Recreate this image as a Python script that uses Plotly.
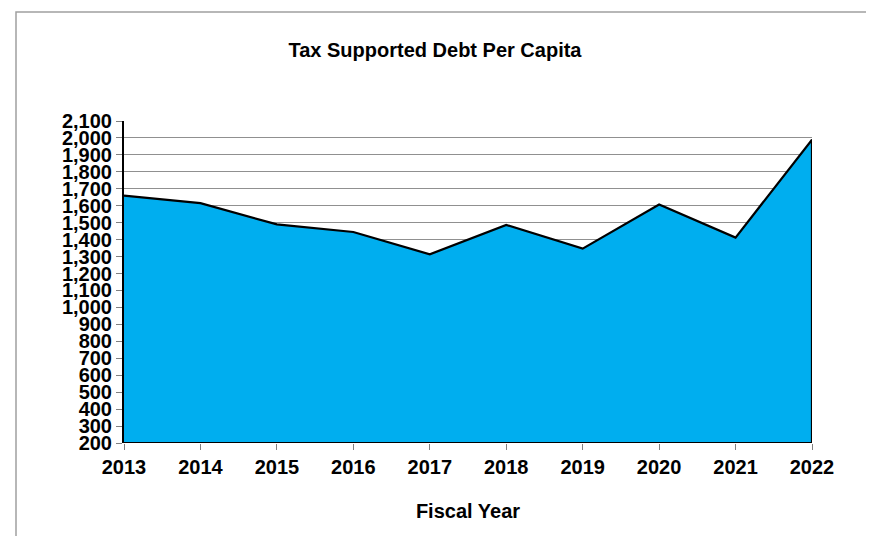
import plotly.graph_objects as go

years = [2013, 2014, 2015, 2016, 2017, 2018, 2019, 2020, 2021, 2022]
debt_per_capita = [1660, 1615, 1490, 1445, 1313, 1487, 1347, 1607, 1412, 1990]
y_ticks = list(range(200, 2101, 100))
y_min, y_max = 200, 2100

# closed outline of the area down to the axis minimum
poly_x = years + [years[-1], years[0]]
poly_y = debt_per_capita + [y_min, y_min]

FONT = "Liberation Sans, Arial, sans-serif"

# page body has an 8px margin, so the figure is laid out 8px up/left
W, H = 866, 528
L, T = 116, 113
R = W - 804
B = H - 435
PW, PH = W - L - R, H - T - B

fig = go.Figure()
fig.add_trace(go.Scatter(
    x=poly_x, y=poly_y, mode="lines", fill="toself",
    fillcolor="#00AEEF", line=dict(color="black", width=2.2),
    hoverinfo="skip", showlegend=False,
))

fig.update_layout(
    width=W, height=H,
    margin=dict(l=L, r=R, t=T, b=B),
    paper_bgcolor="white", plot_bgcolor="white",
    title=dict(text="<b>Tax Supported Debt Per Capita</b>", x=(435 - 8) / W, xanchor="center",
               y=1 - 42 / H, yanchor="middle",
               font=dict(family=FONT, size=20, color="black")),
    xaxis=dict(range=[years[0], years[-1]], tickvals=years,
               ticktext=[f"<b>{y}</b>" for y in years],
               tickfont=dict(family=FONT, size=20, color="black"),
               ticks="outside", ticklen=6, tickcolor="#808080",
               showgrid=False, zeroline=False, showline=False,
               title=dict(text="<b>Fiscal Year</b>", standoff=26,
                          font=dict(family=FONT, size=20, color="black"))),
    yaxis=dict(range=[y_min, y_max], tickvals=y_ticks,
               ticktext=[f"<b>{v:,}</b>" for v in y_ticks],
               tickfont=dict(family=FONT, size=20, color="black"),
               ticks="outside", ticklen=6, tickcolor="#808080",
               showgrid=True, gridcolor="#909090", gridwidth=1,
               zeroline=False, showline=True, linecolor="black", linewidth=2),
    shapes=[dict(type="rect", xref="paper", yref="paper",
                 x0=(16 - 8 - L) / PW, x1=(868 - 8 - L) / PW,
                 y0=(435 - 545) / PH, y1=(435 - 4) / PH,
                 line=dict(color="#A0A0A0", width=1.5), layer="below")],
)

fig.write_html("out.html")
